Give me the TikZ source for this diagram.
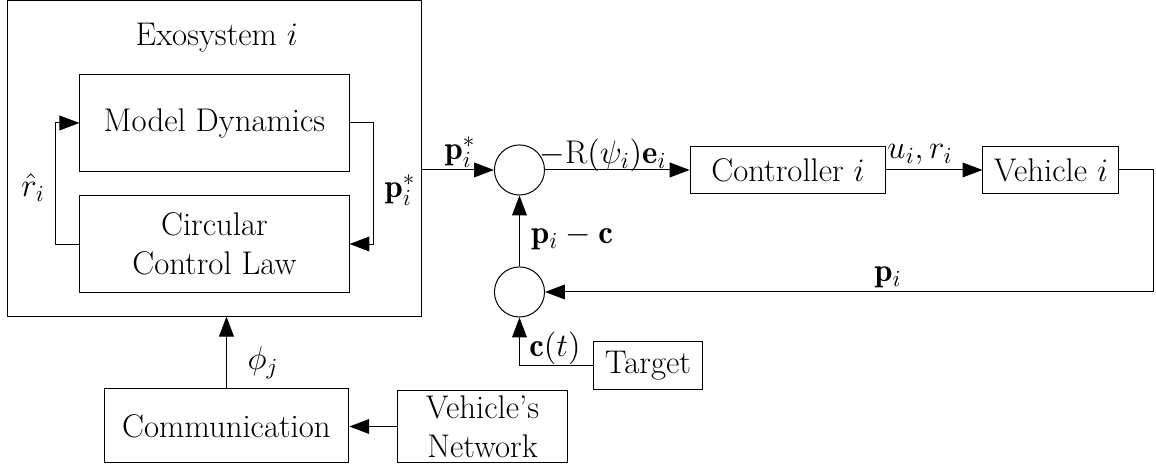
\documentclass[tikz,border=0pt]{standalone}
\usepackage{fix-cm}
\usepackage{amsmath, amssymb}
\usepackage{fontspec}
\usepackage{tikz}
\usetikzlibrary{shapes, arrows.meta, positioning, calc}

\begin{document}
\begin{tikzpicture}[
    font=\fontsize{16.4}{19.5}\selectfont,
    line width=0.5pt,
    blockbox/.style={draw, rectangle, align=center, inner sep=2pt},
    sumnode/.style={draw, circle, minimum size=0.88cm, inner sep=0pt},
    sig/.style={-{Triangle[length=3.5mm, width=2.6mm]}}
  ]
  \useasboundingbox (0,0) rectangle (20.315,-8.224);

  % exosystem with its two inner blocks
  \node[draw, minimum width=7.29cm, minimum height=5.54cm] (exo) at (3.769,-2.785) {};
  \node (exotitle) at (3.81,-0.67) {Exosystem $i$};
  \node[blockbox, minimum width=4.73cm, minimum height=1.72cm] (model) at (3.769,-2.161) {Model Dynamics};
  \node[blockbox, minimum width=4.73cm, minimum height=1.72cm] (law) at (3.769,-4.288) {Circular\\Control Law};
  \draw[sig] (law.west) -- ++(-0.422,0) |- (model.west);
  \draw[sig] (model.east) -- ++(0.422,0) |- (law.east);
  \node (rhatlbl) at (0.58,-3.304) {$\hat{r}_i$};
  \node (pstarin) at (7.03,-3.339) {$\mathbf{p}_i^*$};

  % summing junctions
  \node[sumnode] (sum1) at (9.129,-2.987) {};
  \node[sumnode] (sum2) at (9.129,-5.131) {};

  % loop blocks
  \node[blockbox, minimum width=3.44cm, minimum height=0.84cm] (ctrl) at (13.848,-2.987) {Controller $i$};
  \node[blockbox, minimum width=2.39cm, minimum height=0.84cm] (veh) at (18.469,-2.987) {Vehicle $i$};
  \node[blockbox, minimum width=1.93cm, minimum height=0.86cm] (target) at (11.387,-6.423) {Target};
  \node[blockbox, minimum width=4.3cm, minimum height=1.3cm] (comm) at (3.98,-7.486) {Communication};
  \node[blockbox, minimum width=3.0cm, minimum height=1.28cm] (net) at (8.479,-7.495) {Vehicle's\\Network};
  \coordinate (fbcorner) at (20.279,-5.131);

  % connectors
  \draw[sig] (exo.east |- sum1.west) -- (sum1.west);
  \draw[sig] (sum1.east) -- (ctrl.west);
  \draw[sig] (ctrl.east) -- (veh.west);
  \draw[sig] (veh.east) -| (fbcorner) -- (sum2.east);
  \draw[sig] (sum2.north) -- (sum1.south);
  \draw[sig] (target.west) -| (sum2.south);
  \draw[sig] (net.west) -- (net.west -| comm.east);
  \draw[sig] (comm.north) -- (comm.north |- exo.south);

  % signal labels
  \node (pstarout) at (8.084,-2.671) {$\mathbf{p}_i^*$};
  \node (errlbl) at (10.597,-2.724) {$-\mathrm{R}(\psi_i)\mathbf{e}_i$};
  \node (urlbl) at (16.167,-2.724) {$u_i, r_i$};
  \node (plbl) at (15.605,-4.868) {$\mathbf{p}_i$};
  \node (pclbl) at (10.052,-4.165) {$\mathbf{p}_i - \mathbf{c}$};
  \node (ctlbl) at (9.753,-6.115) {$\mathbf{c}(t)$};
  \node (philbl) at (4.622,-6.379) {$\phi_j$};
\end{tikzpicture}
\end{document}
